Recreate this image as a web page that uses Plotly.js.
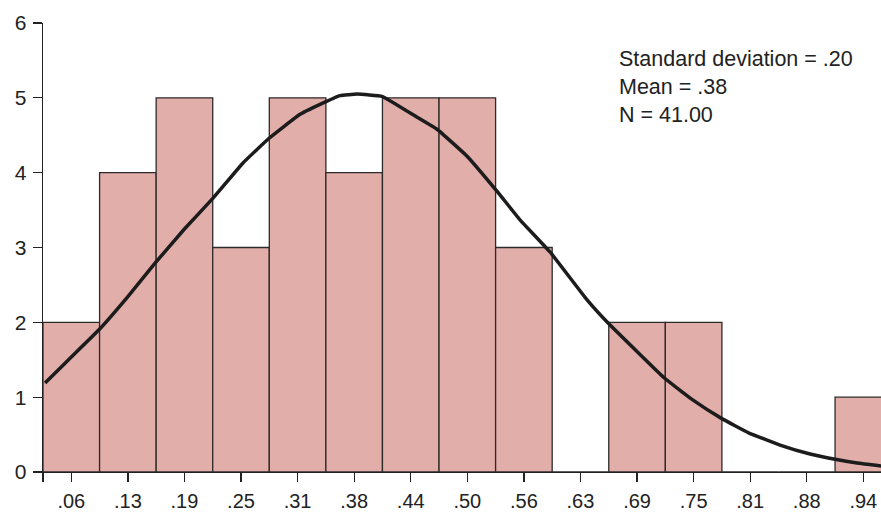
<!DOCTYPE html>
<html>
<head>
<meta charset="utf-8">
<script src="https://cdn.plot.ly/plotly-3.0.1.min.js"></script>
<style>html,body{margin:0;padding:0;background:#fff;}#chart{width:881px;height:512px;}</style>
</head>
<body>
<div id="chart"></div>
<script>
// Histogram bins (bin centres) and their counts
var binCenters = [0.0625, 0.125, 0.1875, 0.25, 0.3125, 0.375, 0.4375, 0.5, 0.5625, 0.625, 0.6875, 0.75, 0.8125, 0.875, 0.9375];
var binLabels = [".06", ".13", ".19", ".25", ".31", ".38", ".44", ".50", ".56", ".63", ".69", ".75", ".81", ".88", ".94"];
var counts = [2, 4, 5, 3, 5, 4, 5, 5, 3, 0, 2, 2, 0, 0, 1];
var binWidth = 0.0625;

// Normal curve points
var curveX = [0.0335, 0.0478, 0.0611, 0.0931, 0.1241, 0.1550, 0.1870, 0.2191, 0.2522, 0.2810, 0.3152, 0.3439, 0.3594, 0.3782, 0.4058, 0.4445, 0.4665, 0.4997, 0.5329, 0.5582, 0.5914, 0.6323, 0.6555, 0.6908, 0.7173, 0.7494, 0.7803, 0.8113, 0.8455, 0.8787, 0.9063, 0.9306, 0.9571];
var curveY = [1.19, 1.36, 1.52, 1.90, 2.33, 2.79, 3.24, 3.66, 4.13, 4.46, 4.78, 4.95, 5.03, 5.05, 5.02, 4.74, 4.58, 4.22, 3.75, 3.37, 2.94, 2.30, 1.99, 1.57, 1.26, 0.96, 0.72, 0.52, 0.36, 0.24, 0.17, 0.12, 0.08];

var yTicks = [0, 1, 2, 3, 4, 5, 6];
var statsLines = ["Standard deviation = .20", "Mean = .38", "N = 41.00"];

var font = "Liberation Sans, Arial, sans-serif";

var tickVals = [binCenters[0] - binWidth / 2].concat(binCenters);
var tickText = [""].concat(binLabels);

var traces = [
  {
    type: "bar",
    x: binCenters,
    y: counts,
    width: binWidth,
    marker: {color: "#e2aeaa", line: {color: "#2e2a2a", width: 1.3}},
    hoverinfo: "x+y"
  },
  {
    type: "scatter",
    mode: "lines",
    x: curveX,
    y: curveY,
    line: {color: "#1c1c1c", width: 3.5, shape: "spline", smoothing: 0.3},
    hoverinfo: "skip"
  }
];

var layout = {
  width: 881,
  height: 512,
  margin: {l: 43, r: 0, t: 23, b: 40, pad: 0},
  paper_bgcolor: "#ffffff",
  plot_bgcolor: "#ffffff",
  showlegend: false,
  bargap: 0,
  font: {family: font, size: 21, color: "#222222"},
  xaxis: {
    range: [binCenters[0] - binWidth / 2, 0.957],
    tickmode: "array",
    tickvals: tickVals,
    ticktext: tickText,
    ticks: "outside",
    ticklen: 9,
    tickwidth: 1.3,
    tickcolor: "#222",
    showline: true,
    linecolor: "#222",
    linewidth: 1.3,
    showgrid: false,
    zeroline: false,
    ticklabelstandoff: 2,
    tickfont: {family: font, size: 20, color: "#222"},
    fixedrange: true
  },
  yaxis: {
    range: [0, 6],
    tickmode: "array",
    tickvals: yTicks,
    ticktext: yTicks.map(String),
    ticks: "outside",
    ticklen: 9,
    tickwidth: 1.3,
    tickcolor: "#222",
    showline: true,
    linecolor: "#222",
    linewidth: 1.3,
    showgrid: false,
    zeroline: false,
    ticklabelstandoff: 2,
    tickfont: {family: font, size: 21, color: "#222"},
    fixedrange: true
  },
  annotations: [{
    xref: "paper", yref: "paper",
    x: 0.685, y: 0.952,
    xanchor: "left", yanchor: "top",
    align: "left",
    showarrow: false,
    text: statsLines.join("<br>"),
    font: {family: font, size: 21.5, color: "#222"}
  }]
};

Plotly.newPlot("chart", traces, layout, {displayModeBar: false, staticPlot: true});
</script>
</body>
</html>
